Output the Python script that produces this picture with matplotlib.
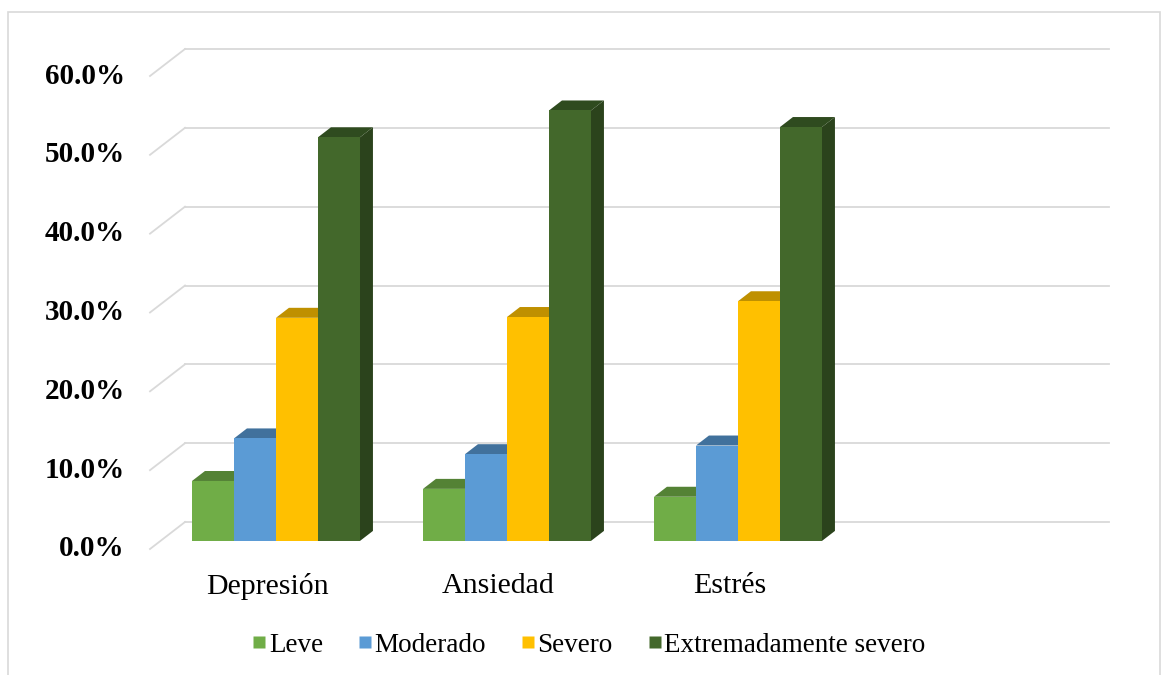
import matplotlib
matplotlib.use("Agg")
import matplotlib.pyplot as plt
from matplotlib.patches import Polygon, Rectangle
from matplotlib.lines import Line2D

# ---- data -------------------------------------------------------------
categories = ["Depresión", "Ansiedad", "Estrés"]
levels = ["Leve", "Moderado", "Severo", "Extremadamente severo"]
leve = [7.6, 6.6, 5.6]
moderado = [13.0, 11.0, 12.1]
severo = [28.3, 28.4, 30.4]
extremo = [51.2, 54.6, 52.5]
y_ticks = [0, 10, 20, 30, 40, 50, 60]
y_tick_labels = ["0.0%", "10.0%", "20.0%", "30.0%", "40.0%", "50.0%", "60.0%"]
n_slots = 4  # category slots along the floor; the last one stays empty

# ---- style ------------------------------------------------------------
face_colors = ["#70AD47", "#5B9BD5", "#FFC000", "#43682B"]
top_colors = ["#548235", "#41719C", "#BF9000", "#2F4B1F"]
side_colors = ["#476F2C", "#355E84", "#A67C00", "#2B431C"]
grid_color = "#D9D9D9"
serif = ["Liberation Serif", "DejaVu Serif"]

W, H, DPI = 1162, 675, 100
fig = plt.figure(figsize=(W / DPI, H / DPI), dpi=DPI)
fig.patch.set_facecolor("white")

# axes = the back wall of the 3-D plot area
wall_l, wall_r, wall_t, wall_b = 185, 1109, 49, 522
ax = fig.add_axes([wall_l / W, (H - wall_b) / H, (wall_r - wall_l) / W,
                   (wall_b - wall_t) / H])
ax.set_xlim(0, n_slots)
ax.set_ylim(0, 60)
ax.axis("off")

px_x = (wall_r - wall_l) / n_slots        # pixels per category slot
px_y = (wall_b - wall_t) / 60.0           # pixels per percentage point
DX = -35 / px_x                           # full depth offset (back -> front)
DY = -27 / px_y


def proj(x, y, d):
    """Project a point at depth d (0 = back wall, 1 = front edge)."""
    return (x + d * DX, y + d * DY)


# gridlines: back-wall line plus the receding line on the side wall
for t, lab in zip(y_ticks, y_tick_labels):
    ax.add_line(Line2D([0, n_slots], [t, t], color=grid_color, lw=1.3,
                       clip_on=False, zorder=1))
    fx, fy = proj(0, t, 1)
    ax.add_line(Line2D([fx, 0], [fy, t], color=grid_color, lw=1.3,
                       clip_on=False, zorder=1))
    ax.text(fx - 25 / px_x, fy, lab,
            ha="right", va="center", fontsize=21, fontweight="bold",
            family=serif, color="black", clip_on=False)

# 3-D columns
series = [leve, moderado, severo, extremo]
gap = 1.5
bw = 1.0 / (len(series) + gap)
d_front, d_back = 0.70, 0.33

for ci, cat in enumerate(categories):
    x0 = ci + gap * bw / 2
    for si, vals in enumerate(series):
        v = vals[ci]
        xl, xr = x0 + si * bw, x0 + (si + 1) * bw
        z = 3 + ci * 10 + si
        # right side face
        side = [proj(xr, 0, d_front), proj(xr, v, d_front),
                proj(xr, v, d_back), proj(xr, 0, d_back)]
        ax.add_patch(Polygon(side, closed=True, facecolor=side_colors[si],
                             edgecolor="none", clip_on=False, zorder=z))
        # top face
        top = [proj(xl, v, d_front), proj(xr, v, d_front),
               proj(xr, v, d_back), proj(xl, v, d_back)]
        ax.add_patch(Polygon(top, closed=True, facecolor=top_colors[si],
                             edgecolor="none", clip_on=False, zorder=z))
        # front face
        front = [proj(xl, 0, d_front), proj(xr, 0, d_front),
                 proj(xr, v, d_front), proj(xl, v, d_front)]
        ax.add_patch(Polygon(front, closed=True, facecolor=face_colors[si],
                             edgecolor="none", clip_on=False, zorder=z))
    # category label
    lx, ly = proj(ci + 0.5, 0, 1)
    ax.text(lx + 2 / px_x, ly - 37 / px_y, cat, ha="center", va="center",
            fontsize=21.5, family=serif, color="black", clip_on=False)

# legend
handles = [Line2D([], [], marker="s", linestyle="none", markersize=8.5,
                  markerfacecolor=c, markeredgecolor="none")
           for c in face_colors]
fig.legend(handles, levels, loc="center", bbox_to_anchor=(589 / W, 1 - 645 / H),
           ncol=4, frameon=False, handlelength=0.5, handletextpad=0.1,
           columnspacing=1.3, borderaxespad=0,
           prop={"family": serif, "size": 19.5})

# chart border
fig.add_artist(Rectangle((8 / W, -0.01), (1160 - 8) / W, 1.01 - 12 / H,
                         transform=fig.transFigure, fill=False,
                         edgecolor="#D9D9D9", lw=1.2))

fig.savefig("out.png", dpi=DPI, facecolor="white")
